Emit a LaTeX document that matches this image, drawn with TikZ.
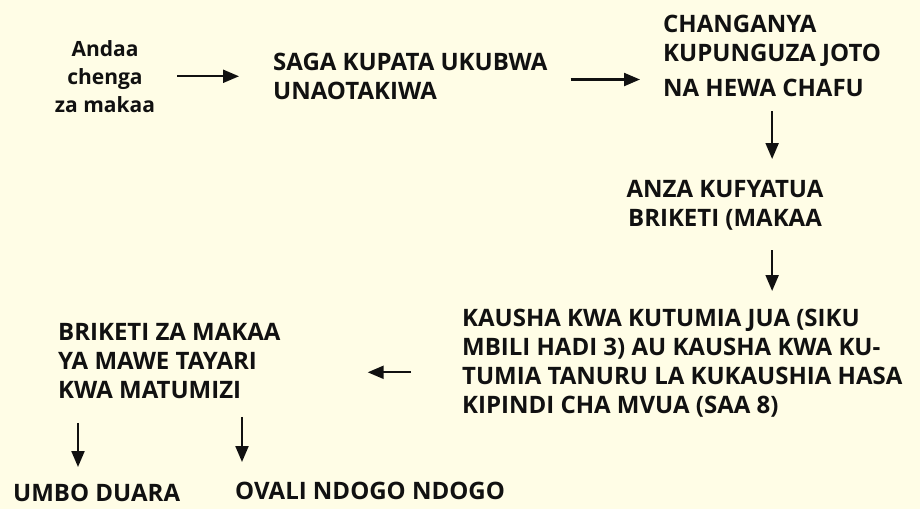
\documentclass[tikz,border=0pt]{standalone}
\usepackage{fontspec}
\usepackage{tikz}
\usetikzlibrary{arrows.meta}
\newfontfamily\flowfont{Open Sans}
\definecolor{paper}{HTML}{FFFDE6}
\definecolor{ink}{HTML}{111111}

\begin{document}
\begin{tikzpicture}[yscale=-1, x=1pt, y=1pt,
		stage/.style={inner sep=0pt, text=ink, font=\flowfont\bfseries\fontsize{24}{29}\selectfont, align=left},
		flow/.style={draw=ink, line width=2.2pt, -{Triangle[length=16pt, width=13pt]}}]

		\useasboundingbox [fill=paper] (0, 0) rectangle (920, 509);

		\node [stage, anchor=north, align=center, font=\flowfont\bfseries\fontsize{21}{28}\selectfont]
			(andaa)		at (105, 40)	{Andaa\\chenga\\za makaa};
		\node [stage, anchor=north west]	(saga)		at (273, 53)	{SAGA KUPATA UKUBWA\\UNAOTAKIWA};
		\node [stage, anchor=north west]	(change)	at (663, 15)	{CHANGANYA\\KUPUNGUZA JOTO\\[6pt]NA HEWA CHAFU};
		\node [stage, anchor=north, align=center]	(anza)	at (725, 180)	{ANZA KUFYATUA\\BRIKETI (MAKAA};
		\node [stage, anchor=north west]	(kausha)	at (462, 309)	{KAUSHA KWA KUTUMIA JUA (SIKU\\MBILI HADI 3) AU KAUSHA KWA KU-\\TUMIA TANURU LA KUKAUSHIA HASA\\KIPINDI CHA MVUA (SAA 8)};
		\node [stage, anchor=north west]	(briketi)	at (58, 323)	{BRIKETI ZA MAKAA\\YA MAWE TAYARI\\KWA MATUMIZI};
		\node [stage, anchor=north west]	(umbo)		at (13, 484)	{UMBO DUARA};
		\node [stage, anchor=north west]	(ovali)		at (235, 482)	{OVALI NDOGO NDOGO};

		\draw [flow, shorten <=22pt, shorten >=34pt]	(andaa.east) -- (andaa.east -| saga.west);
		\draw [flow, shorten <=23pt, shorten >=23pt]	([yshift=3pt]saga.east) -- ([yshift=3pt]saga.east -| change.west);
		\draw [flow, shorten <=14pt, shorten >=21pt]	(change.south) -- (change.south |- anza.north);
		\draw [flow, shorten <=20pt, shorten >=18pt]	(anza.south -| change.south) -- (kausha.north -| change.south);
		\draw [flow, shorten <=51pt, shorten >=87pt]	([yshift=9pt]kausha.west) -- ([yshift=9pt]kausha.west -| briketi.east);
		\draw [flow]	([xshift=20pt, yshift=24pt]briketi.south west) -- ([xshift=65pt, yshift=-17pt]umbo.north west);
		\draw [flow]	([xshift=184pt, yshift=18pt]briketi.south west) -- ([xshift=7pt, yshift=-20pt]ovali.north west);

	\end{tikzpicture}
\end{document}
